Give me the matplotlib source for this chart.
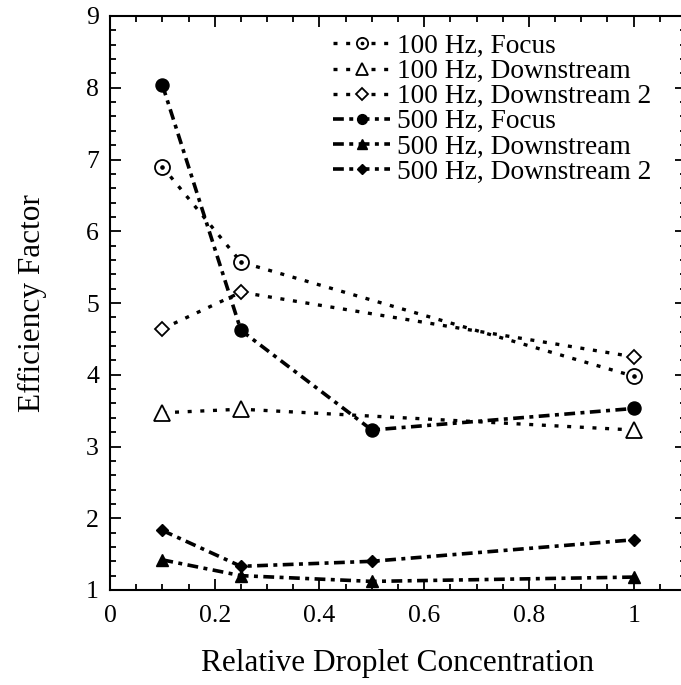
import matplotlib
matplotlib.use("Agg")
import matplotlib.pyplot as plt
from matplotlib.ticker import MultipleLocator

plt.rcParams['font.family'] = ['Liberation Serif', 'DejaVu Serif']

# data
x_100 = [0.1, 0.25, 1.0]
focus_100 = [6.90, 5.57, 3.98]
down_100 = [3.47, 3.52, 3.23]
down2_100 = [4.64, 5.15, 4.25]

x_500 = [0.1, 0.25, 0.5, 1.0]
focus_500 = [8.04, 4.62, 3.23, 3.53]
down_500 = [1.42, 1.20, 1.12, 1.18]
down2_500 = [1.83, 1.33, 1.40, 1.70]

labels = ['100 Hz, Focus', '100 Hz, Downstream', '100 Hz, Downstream 2',
          '500 Hz, Focus', '500 Hz, Downstream', '500 Hz, Downstream 2']

dot_style = dict(color='black', lw=2.4, dashes=(1.2, 2.6))
dash_dot = dict(color='black', lw=2.6, dashes=(3.0, 1.5, 1.1, 1.5))
open_mk = dict(mfc='white', mec='black', mew=1.3)
fill_mk = dict(mfc='black', mec='black', mew=1.0)

fig = plt.figure(figsize=(6.81, 6.85), dpi=100)
# x: 0 -> 110 px, 1.1 -> 686 px (right spine just off the image); y: 9 -> 16 px, 1 -> 590 px
ax = fig.add_axes([110 / 681, 95 / 685, 576 / 681, 574 / 685])

# 100 Hz - open markers, dotted lines
l1, = ax.plot(x_100, focus_100, marker='o', ms=10.8, **open_mk, **dot_style)
d1, = ax.plot(x_100, focus_100, ls='none', marker='o', ms=2.3, color='black')
l2, = ax.plot(x_100, down_100, marker='^', ms=12, **open_mk, **dot_style)
l3, = ax.plot(x_100, down2_100, marker='D', ms=7.6, **open_mk, **dot_style)

# 500 Hz - filled markers, dash-dot lines
l4, = ax.plot(x_500, focus_500, marker='o', ms=9.4, **fill_mk, **dash_dot)
l5, = ax.plot(x_500, down_500, marker='^', ms=9, **fill_mk, **dash_dot)
l6, = ax.plot(x_500, down2_500, marker='D', ms=6.5, **fill_mk, **dash_dot)

ax.set_xlim(0, 1.1)
ax.set_ylim(1, 9)
ax.xaxis.set_minor_locator(MultipleLocator(0.05))
ax.yaxis.set_major_locator(MultipleLocator(1))
ax.yaxis.set_minor_locator(MultipleLocator(0.2))
ax.set_xticks([0, 0.2, 0.4, 0.6, 0.8, 1.0])
ax.set_xticklabels(['0', '0.2', '0.4', '0.6', '0.8', '1'])

ax.tick_params(which='both', direction='in', top=True, right=True, labelsize=18.5, width=1.3)
ax.tick_params(which='major', length=8, pad=8)
ax.tick_params(axis='x', which='major', pad=11)
ax.tick_params(which='minor', length=4.5)
for s in ax.spines.values():
    s.set_linewidth(1.5)

ax.set_xlabel('Relative Droplet Concentration', fontsize=22.5, labelpad=16)
ax.set_ylabel('Efficiency Factor', fontsize=22.5, labelpad=28)

ax.legend([(l1, d1), l2, l3, l4, l5, l6], labels, loc='upper left',
          bbox_to_anchor=(0.387, 0.969), frameon=False, fontsize=19.7,
          handlelength=2.1, handletextpad=0.25, labelspacing=0.0,
          borderpad=0, borderaxespad=0, markerscale=0.75)

fig.savefig('out.png', dpi=100)
